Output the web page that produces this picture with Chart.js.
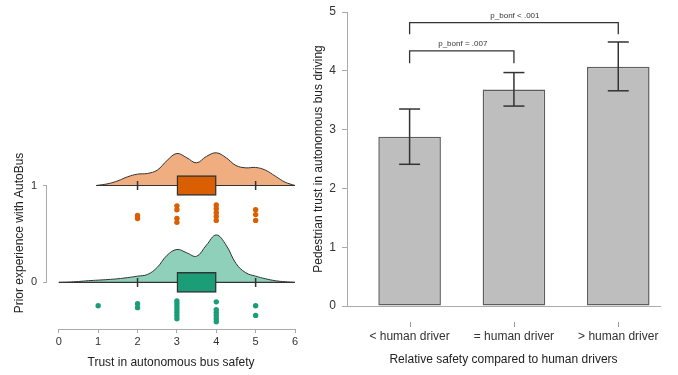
<!DOCTYPE html>
<html>
<head>
<meta charset="utf-8">
<script src="https://cdn.jsdelivr.net/npm/chart.js@4"></script>
<style>
html, body { margin: 0; padding: 0; background: #fff; }
#wrap { position: relative; width: 678px; height: 375px; }
#left { position: absolute; left: 0; top: 0; }
#right { position: absolute; left: 300px; top: 0; }
</style>
</head>
<body>
<div id="wrap">
  <canvas id="left" width="310" height="375"></canvas>
  <canvas id="right" width="378" height="375"></canvas>
</div>
<script>
// --- left panel: raincloud of trust by prior experience ---
const groups = [1, 0];
const groupColors = ['#D95F02', '#1B9E77'];
const cloudColors = ['#F0AE80', '#8ED0BA'];

// density heights above each group's baseline
const densX1 = [0.95, 1.25, 1.5, 1.75, 2, 2.25, 2.5, 2.75, 3, 3.25, 3.5, 3.75, 4, 4.25, 4.5, 4.75, 5, 5.25, 5.5, 5.75, 6];
const densH1 = [0, 0.018, 0.048, 0.09, 0.117, 0.124, 0.158, 0.258, 0.33, 0.286, 0.234, 0.3, 0.337, 0.286, 0.206, 0.182, 0.186, 0.158, 0.096, 0.034, 0];
const densX0 = [0, 0.25, 0.5, 0.75, 1, 1.25, 1.5, 1.75, 2, 2.25, 2.5, 2.75, 3, 3.25, 3.5, 3.75, 4, 4.25, 4.5, 4.75, 5, 5.25, 5.5, 5.75, 6];
const densH0 = [0, 0.003, 0.01, 0.018, 0.024, 0.03, 0.038, 0.05, 0.065, 0.082, 0.155, 0.28, 0.34, 0.306, 0.27, 0.385, 0.49, 0.385, 0.196, 0.1, 0.065, 0.038, 0.018, 0.007, 0];

const boxQ1 = [3, 3];
const boxQ3 = [4, 4];
const whiskLo = [2, 2];
const whiskHi = [5, 5];

// raw points (jittered rows below each cloud)
const dotsX1 = [2, 2, 3, 3, 3, 3, 4, 4, 4, 4, 4, 5, 5, 5];
const dotsY1 = [0.69, 0.66, 0.79, 0.75, 0.66, 0.62, 0.80, 0.76, 0.72, 0.68, 0.64, 0.75, 0.70, 0.64];
const dotsX0 = [1, 2, 2, 3, 3, 3, 3, 3, 3, 3, 4, 4, 4, 4, 4, 4, 5, 5];
const dotsY0 = [-0.24, -0.22, -0.26, -0.19, -0.22, -0.25, -0.28, -0.31, -0.34, -0.375, -0.2, -0.28, -0.31, -0.34, -0.375, -0.405, -0.24, -0.34];

const xTicksLeft = [0, 1, 2, 3, 4, 5, 6];

// --- right panel: mean trust by relative safety ---
const categories = ['< human driver', '= human driver', '> human driver'];
const catPos = [1, 2, 3];
const means = [2.88, 3.68, 4.07];
const ciLow = [2.41, 3.40, 3.66];
const ciHigh = [3.35, 3.97, 4.49];
const yTicksRight = [0, 1, 2, 3, 4, 5];

const bracketFrom = [1, 1];
const bracketTo = [2, 3];
const bracketTop = [4.34, 4.82];
const bracketLeg = [4.13, 4.62];
const bracketLabels = ['p_bonf = .007', 'p_bonf < .001'];

Chart.defaults.font.family = '"Liberation Sans", Arial, sans-serif';
Chart.defaults.color = '#333';

const AXIS_GREY = '#aaaaaa';
const INK = '#333333';

// keep Chart.js from shrinking the plot for overhanging labels
const noPad = s => { s.paddingLeft = 0; s.paddingRight = 0; s.paddingTop = 0; s.paddingBottom = 0; };

// R-style axis lines that only span the tick range
const rangeAxes = {
    id: 'rangeAxes',
    afterDraw(chart) {
        const { ctx, chartArea, scales: { x, y } } = chart;
        ctx.save();
        ctx.strokeStyle = AXIS_GREY;
        ctx.lineWidth = 1;
        ctx.beginPath();
        ctx.moveTo(x.getPixelForValue(xTicksLeft[0]), chartArea.bottom + 0.5);
        ctx.lineTo(x.getPixelForValue(xTicksLeft[xTicksLeft.length - 1]), chartArea.bottom + 0.5);
        ctx.moveTo(chartArea.left - 0.5, y.getPixelForValue(groups[0]));
        ctx.lineTo(chartArea.left - 0.5, y.getPixelForValue(groups[groups.length - 1]));
        ctx.stroke();
        ctx.restore();
    }
};

const leftSets = [];
[[densX1, densH1], [densX0, densH0]].forEach(([xs, hs], g) => {
    const base = groups[g];
    leftSets.push({
        type: 'line',
        data: xs.map((v, i) => ({ x: v, y: base + hs[i] })),
        fill: { value: base },
        backgroundColor: cloudColors[g],
        borderColor: INK,
        borderWidth: 1,
        pointRadius: 0,
        tension: 0.4,
        order: 6
    });
    leftSets.push({
        type: 'line',
        data: [{ x: xs[0], y: base }, { x: xs[xs.length - 1], y: base }],
        borderColor: INK,
        borderWidth: 1.2,
        pointRadius: 0,
        order: 5
    });
});

leftSets.push({
    type: 'bar',
    indexAxis: 'y',
    data: groups.map((g, i) => ({ x: [boxQ1[i], boxQ3[i]], y: g })),
    backgroundColor: groupColors,
    borderColor: INK,
    borderWidth: 1.5,
    borderSkipped: false,
    barThickness: 20,
    order: 4
});

leftSets.push({
    type: 'scatter',
    data: groups.flatMap((g, i) => [{ x: whiskLo[i], y: g }, { x: whiskHi[i], y: g }]),
    pointStyle: 'line',
    pointRotation: 90,
    pointRadius: 4.5,
    pointBorderColor: INK,
    pointBorderWidth: 1.5,
    order: 3
});

[[dotsX1, dotsY1], [dotsX0, dotsY0]].forEach(([xs, ys], g) => {
    leftSets.push({
        type: 'scatter',
        data: xs.map((v, i) => ({ x: v, y: ys[i] })),
        pointRadius: 2.7,
        pointBackgroundColor: groupColors[g],
        pointBorderWidth: 0,
        order: 1
    });
});

new Chart(document.getElementById('left'), {
    type: 'scatter',
    data: { datasets: leftSets },
    options: {
        responsive: false,
        animation: false,
        devicePixelRatio: 1,
        layout: { padding: { top: 137, right: 15, left: 0, bottom: 0 } },
        plugins: { legend: { display: false }, tooltip: { enabled: false } },
        scales: {
            x: {
                type: 'linear',
                min: -0.3,
                max: 6,
                offset: false,
                afterBuildTicks: s => { s.ticks = xTicksLeft.map(v => ({ value: v })); },
                afterFit: s => { s.height = 46; noPad(s); },
                border: { display: false },
                grid: { drawOnChartArea: false, offset: false, color: AXIS_GREY, tickLength: 4 },
                ticks: { color: INK, font: { size: 11 }, padding: 2.5 },
                title: { display: true, text: 'Trust in autonomous bus safety', color: '#222', font: { size: 12 }, padding: { top: 0, bottom: 5 } }
            },
            y: {
                type: 'linear',
                min: -0.48,
                max: 1.5,
                offset: false,
                afterBuildTicks: s => { s.ticks = groups.map(v => ({ value: v })); },
                afterFit: s => { s.width = 47; noPad(s); },
                border: { display: false },
                grid: { drawOnChartArea: false, offset: false, color: AXIS_GREY, tickLength: 4 },
                ticks: { color: INK, font: { size: 11 }, padding: 6 },
                title: { display: true, text: 'Prior experience with AutoBus', color: '#222', font: { size: 12 }, padding: { top: 12, bottom: 0 } }
            }
        }
    },
    plugins: [rangeAxes]
});

// detached category ticks + significance labels
const rightExtras = {
    id: 'rightExtras',
    afterDraw(chart) {
        const { ctx, chartArea, scales: { x, y } } = chart;
        ctx.save();
        ctx.strokeStyle = '#999';
        ctx.lineWidth = 1;
        catPos.forEach(p => {
            const px = Math.round(x.getPixelForValue(p)) + 0.5;
            ctx.beginPath();
            ctx.moveTo(px, chartArea.bottom + 16);
            ctx.lineTo(px, chartArea.bottom + 21);
            ctx.stroke();
        });
        ctx.fillStyle = INK;
        ctx.font = '8px "Liberation Sans", Arial, sans-serif';
        ctx.textAlign = 'center';
        ctx.textBaseline = 'middle';
        bracketLabels.forEach((t, i) => {
            const mx = (x.getPixelForValue(bracketFrom[i]) + x.getPixelForValue(bracketTo[i])) / 2;
            ctx.fillText(t, mx + 1, y.getPixelForValue(bracketTop[i]) - 7);
        });
        ctx.restore();
    }
};

const rightSets = [{
    type: 'bar',
    data: catPos.map((p, i) => ({ x: p, y: means[i] })),
    backgroundColor: '#BEBEBE',
    borderColor: '#5E5E5E',
    borderWidth: 1.5,
    borderSkipped: false,
    barPercentage: 0.6,
    categoryPercentage: 1,
    order: 3
}];

catPos.forEach((p, i) => {
    rightSets.push({
        type: 'line',
        data: [{ x: p, y: ciLow[i] }, { x: p, y: ciHigh[i] }],
        borderColor: INK,
        borderWidth: 1.5,
        pointStyle: 'line',
        pointRadius: 10.5,
        pointBorderColor: INK,
        pointBorderWidth: 1.5,
        order: 1
    });
});

bracketFrom.forEach((a, i) => {
    const b = bracketTo[i];
    rightSets.push({
        type: 'line',
        data: [
            { x: a, y: bracketLeg[i] }, { x: a, y: bracketTop[i] },
            { x: b, y: bracketTop[i] }, { x: b, y: bracketLeg[i] }
        ],
        borderColor: INK,
        borderWidth: 1.3,
        pointRadius: 0,
        order: 0
    });
});

new Chart(document.getElementById('right'), {
    type: 'scatter',
    data: { datasets: rightSets },
    options: {
        responsive: false,
        animation: false,
        devicePixelRatio: 1,
        layout: { padding: { top: 11, right: 18, left: 0, bottom: 0 } },
        plugins: { legend: { display: false }, tooltip: { enabled: false } },
        scales: {
            x: {
                type: 'linear',
                min: 0.4,
                max: 3.4,
                offset: false,
                afterBuildTicks: s => { s.ticks = catPos.map(v => ({ value: v })); },
                afterFit: s => { s.height = 69; noPad(s); },
                border: { display: true, color: AXIS_GREY },
                grid: { display: false, drawTicks: false, offset: false },
                ticks: { color: INK, font: { size: 12 }, padding: 23.5, callback: (v, i) => categories[i] },
                title: { display: true, text: 'Relative safety compared to human drivers', color: '#222', font: { size: 12 }, padding: { top: 0, bottom: 8 } }
            },
            y: {
                type: 'linear',
                min: 0,
                max: 5,
                afterBuildTicks: s => { s.ticks = yTicksRight.map(v => ({ value: v })); },
                afterFit: s => { s.width = 47; noPad(s); },
                border: { display: true, color: AXIS_GREY },
                grid: { drawOnChartArea: false, color: AXIS_GREY, tickLength: 5 },
                ticks: { color: INK, font: { size: 12 }, padding: 6 },
                title: { display: true, text: 'Pedestrian trust in autonomous bus driving', color: '#222', font: { size: 12 }, padding: { top: 11, bottom: 0 } }
            }
        }
    },
    plugins: [rightExtras]
});
</script>
</body>
</html>
